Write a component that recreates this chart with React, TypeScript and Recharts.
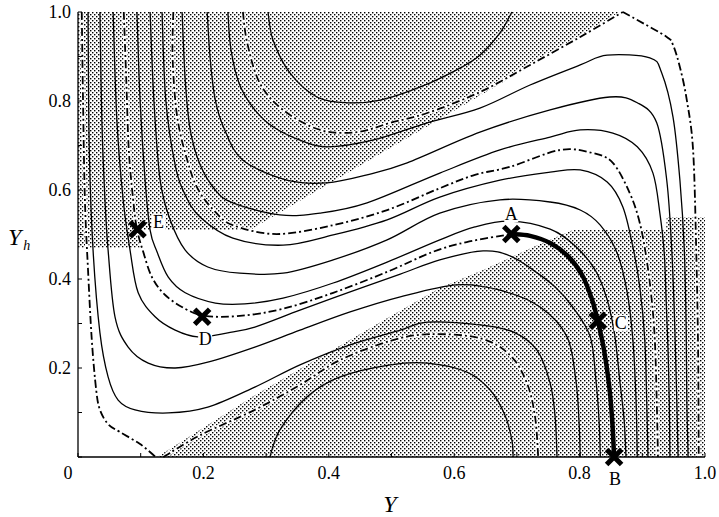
import React from 'react';
import { ComposedChart, Line, Area, Scatter, XAxis, YAxis } from 'recharts';

// ---------- axis ticks ----------
const TICKS = [0, 0.1, 0.2, 0.3, 0.4, 0.5, 0.6, 0.7, 0.8, 0.9, 1.0];
const X_LABELS = ['0', '', '0.2', '', '0.4', '', '0.6', '', '0.8', '', '1.0'];
const Y_LABELS = ['', '', '0.2', '', '0.4', '', '0.6', '', '0.8', '', '1.0'];

// ---------- shaded regions (x, lower, upper) ----------
const UPPER_SHADE_X = [0, 0.099, 0.1, 0.274, 0.869];
const UPPER_SHADE_LO = [0.47, 0.47, 0.51, 0.51, 1.0];
const LOWER_SHADE_X = [0.126, 0.282, 0.493, 0.577, 0.646, 0.726, 0.789, 0.938, 0.939, 1.0];
const LOWER_SHADE_HI = [0, 0.139, 0.312, 0.38, 0.42, 0.472, 0.51, 0.51, 0.539, 0.539];

// ---------- separatrices (dash-dot) ----------
const L0 = [[0.006, 1], [0.008, 0.802], [0.011, 0.578], [0.016, 0.42], [0.022, 0.263], [0.029, 0.151], [0.035, 0.106], [0.048, 0.074], [0.067, 0.056], [0.099, 0.029], [0.124, 0]];
const LO2 = [[0.136, 0], [0.195, 0.049], [0.282, 0.106], [0.354, 0.162], [0.418, 0.218], [0.498, 0.261], [0.561, 0.276], [0.641, 0.267], [0.689, 0.229], [0.716, 0.166], [0.729, 0.09], [0.734, 0]];
const UP2 = [[0.263, 1], [0.27, 0.93], [0.29, 0.84], [0.327, 0.78], [0.386, 0.735], [0.445, 0.73], [0.498, 0.751], [0.557, 0.773], [0.641, 0.82], [0.721, 0.881], [0.801, 0.944], [0.869, 1]];
const R0 = [[0.869, 1], [0.892, 0.982], [0.939, 0.944], [0.949, 0.926], [0.96, 0.876], [0.971, 0.802], [0.981, 0.69], [0.986, 0.465], [0.989, 0.24], [0.99, 0]];
const DD1 = [[0.073, 1], [0.077, 0.847], [0.081, 0.69], [0.088, 0.578], [0.094, 0.512], [0.104, 0.461], [0.118, 0.404], [0.139, 0.364], [0.171, 0.333], [0.203, 0.317], [0.258, 0.317], [0.327, 0.333], [0.407, 0.369], [0.493, 0.416], [0.566, 0.461], [0.62, 0.483], [0.691, 0.501]];
const DD2 = [[0.152, 1], [0.151, 0.892], [0.159, 0.757], [0.179, 0.645], [0.195, 0.593], [0.219, 0.551], [0.247, 0.521], [0.317, 0.501], [0.407, 0.521], [0.493, 0.555], [0.577, 0.604], [0.633, 0.634], [0.689, 0.652], [0.769, 0.69], [0.821, 0.683], [0.853, 0.661], [0.88, 0.593], [0.896, 0.526], [0.907, 0.443], [0.915, 0.353], [0.92, 0.263], [0.923, 0.128], [0.925, 0]];

// ---------- solid contours ----------
const UP1 = [[0.303, 1], [0.311, 0.937], [0.338, 0.863], [0.381, 0.809], [0.429, 0.796], [0.482, 0.802], [0.545, 0.831], [0.604, 0.87], [0.641, 0.903], [0.673, 0.953], [0.692, 1]];
const LO1 = [[0.306, 0], [0.322, 0.061], [0.365, 0.135], [0.418, 0.18], [0.498, 0.207], [0.557, 0.211], [0.62, 0.191], [0.657, 0.151], [0.681, 0.094], [0.692, 0.038], [0.694, 0]];
const A1 = [[0.016, 1], [0.018, 0.69], [0.024, 0.465], [0.035, 0.279], [0.048, 0.18], [0.064, 0.128], [0.091, 0.106], [0.144, 0.099], [0.207, 0.112], [0.282, 0.157], [0.354, 0.207], [0.434, 0.252], [0.514, 0.285], [0.557, 0.303], [0.641, 0.297], [0.694, 0.281], [0.732, 0.24], [0.753, 0.166], [0.761, 0.09], [0.764, 0]];
const A2 = [[0.035, 1], [0.038, 0.757], [0.043, 0.578], [0.048, 0.465], [0.059, 0.315], [0.08, 0.247], [0.112, 0.211], [0.155, 0.2], [0.207, 0.213], [0.282, 0.247], [0.354, 0.285], [0.434, 0.326], [0.514, 0.36], [0.604, 0.387], [0.673, 0.375], [0.737, 0.337], [0.78, 0.27], [0.794, 0.173], [0.799, 0.083], [0.801, 0]];
const A3 = [[0.056, 1], [0.062, 0.757], [0.072, 0.578], [0.083, 0.465], [0.096, 0.369], [0.123, 0.315], [0.155, 0.285], [0.191, 0.27], [0.239, 0.279], [0.282, 0.292], [0.354, 0.33], [0.434, 0.371], [0.514, 0.411], [0.577, 0.443], [0.646, 0.463], [0.689, 0.452], [0.726, 0.42], [0.761, 0.382], [0.789, 0.337], [0.817, 0.27], [0.826, 0.173], [0.831, 0.083], [0.833, 0]];
const S1 = [[0.094, 1], [0.099, 0.802], [0.107, 0.622], [0.115, 0.51], [0.126, 0.461], [0.144, 0.404], [0.171, 0.369], [0.219, 0.346], [0.266, 0.344], [0.327, 0.357], [0.407, 0.391], [0.493, 0.438], [0.577, 0.488], [0.633, 0.517], [0.689, 0.53], [0.753, 0.512], [0.793, 0.474], [0.825, 0.42], [0.844, 0.353], [0.856, 0.274], [0.864, 0.173], [0.871, 0.083], [0.874, 0]];
const S2 = [[0.115, 1], [0.121, 0.802], [0.131, 0.622], [0.147, 0.533], [0.171, 0.465], [0.207, 0.427], [0.258, 0.413], [0.327, 0.413], [0.407, 0.443], [0.493, 0.488], [0.577, 0.548], [0.673, 0.578], [0.753, 0.573], [0.801, 0.555], [0.833, 0.521], [0.86, 0.458], [0.876, 0.369], [0.885, 0.263], [0.89, 0.128], [0.892, 0]];
const S3 = [[0.134, 1], [0.14, 0.802], [0.155, 0.656], [0.171, 0.589], [0.195, 0.539], [0.247, 0.492], [0.327, 0.476], [0.407, 0.499], [0.493, 0.533], [0.577, 0.584], [0.673, 0.622], [0.753, 0.64], [0.801, 0.645], [0.844, 0.618], [0.869, 0.562], [0.885, 0.472], [0.896, 0.382], [0.904, 0.263], [0.907, 0.128], [0.909, 0]];
const C1 = [[0.166, 1], [0.171, 0.847], [0.179, 0.735], [0.195, 0.656], [0.219, 0.6], [0.247, 0.571], [0.322, 0.544], [0.386, 0.548], [0.461, 0.571], [0.577, 0.638], [0.673, 0.69], [0.753, 0.719], [0.801, 0.735], [0.853, 0.728], [0.892, 0.697], [0.917, 0.638], [0.928, 0.548], [0.935, 0.458], [0.938, 0.353], [0.941, 0.24], [0.943, 0.128], [0.944, 0]];
const C2 = [[0.206, 1], [0.211, 0.892], [0.219, 0.802], [0.234, 0.735], [0.263, 0.667], [0.333, 0.622], [0.397, 0.616], [0.461, 0.634], [0.525, 0.661], [0.641, 0.73], [0.753, 0.78], [0.848, 0.809], [0.892, 0.796], [0.923, 0.751], [0.939, 0.622], [0.947, 0.465], [0.952, 0.285], [0.955, 0.128], [0.957, 0]];
const C3 = [[0.239, 1], [0.244, 0.915], [0.258, 0.836], [0.282, 0.78], [0.311, 0.742], [0.354, 0.712], [0.397, 0.697], [0.47, 0.712], [0.557, 0.751], [0.641, 0.784], [0.721, 0.836], [0.801, 0.881], [0.844, 0.903], [0.912, 0.897], [0.931, 0.863], [0.949, 0.764], [0.96, 0.622], [0.967, 0.465], [0.97, 0.285], [0.971, 0.128], [0.973, 0]];

// ---------- thick trajectory A -> C -> B ----------
const PATH_AB = [[0.691, 0.501], [0.721, 0.497], [0.753, 0.481], [0.781, 0.452], [0.804, 0.409], [0.82, 0.353], [0.829, 0.306], [0.839, 0.24], [0.847, 0.162], [0.852, 0.083], [0.855, 0]];

// ---------- marked points ----------
const MARK_NAMES = ['A', 'B', 'C', 'D', 'E'];
const MARK_X = [0.691, 0.855, 0.829, 0.198, 0.095];
const MARK_Y = [0.501, 0, 0.306, 0.315, 0.512];

const SOLID = [UP1, LO1, A1, A2, A3, S1, S2, S3, C1, C2, C3];
const DASHDOT = [L0, LO2, UP2, R0, DD1, DD2];

const toPts = (a: number[][]) => a.map(([x, y]) => ({ x, y }));
const upperShade = UPPER_SHADE_X.map((x, i) => ({ x, r: [UPPER_SHADE_LO[i], 1] }));
const lowerShade = LOWER_SHADE_X.map((x, i) => ({ x, r: [0, LOWER_SHADE_HI[i]] }));
const marks = MARK_NAMES.map((name, i) => ({ name, x: MARK_X[i], y: MARK_Y[i] }));

const LABEL_OFF: Record<string, [number, number]> = {
  A: [0, -20], B: [1, 22], C: [23, 2], D: [3, 22], E: [21, -7],
};

// Catmull-Rom curve factory (d3-compatible)
function catmull(context: any) {
  let pts: [number, number][] = [];
  return {
    areaStart() {},
    areaEnd() {},
    lineStart() { pts = []; },
    lineEnd() {
      const n = pts.length;
      if (!n) return;
      context.moveTo(pts[0][0], pts[0][1]);
      for (let i = 0; i < n - 1; i++) {
        const p0 = pts[Math.max(0, i - 1)];
        const p1 = pts[i];
        const p2 = pts[i + 1];
        const p3 = pts[Math.min(n - 1, i + 2)];
        context.bezierCurveTo(
          p1[0] + (p2[0] - p0[0]) / 6, p1[1] + (p2[1] - p0[1]) / 6,
          p2[0] - (p3[0] - p1[0]) / 6, p2[1] - (p3[1] - p1[1]) / 6,
          p2[0], p2[1]
        );
      }
    },
    point(x: number, y: number) { pts.push([+x, +y]); },
  };
}

const FONT = '"Liberation Serif", "Times New Roman", Times, serif';

const XTick = (p: any) => {
  const i = TICKS.findIndex((t) => Math.abs(t - p.payload.value) < 1e-6);
  const s = X_LABELS[i] || '';
  if (!s) return <g />;
  const dx = s === '0' ? -10 : 0;
  return (
    <text x={p.x + dx} y={p.y} dy="0.71em" textAnchor="middle" fontFamily={FONT} fontSize={18} fill="#000">
      {s}
    </text>
  );
};

const YTick = (p: any) => {
  const i = TICKS.findIndex((t) => Math.abs(t - p.payload.value) < 1e-6);
  const s = Y_LABELS[i] || '';
  if (!s) return <g />;
  return (
    <text x={p.x} y={p.y} dy="0.34em" textAnchor="end" fontFamily={FONT} fontSize={18} fill="#000">
      {s}
    </text>
  );
};

const Cross = (p: any) => {
  const { cx, cy, payload } = p;
  const o = LABEL_OFF[payload.name] || [0, 0];
  const a = 7.5;
  return (
    <g>
      <path
        d={`M${cx - a},${cy - a}L${cx + a},${cy + a}M${cx - a},${cy + a}L${cx + a},${cy - a}`}
        stroke="#000" strokeWidth={5} fill="none"
      />
      <rect x={cx + o[0] - 7} y={cy + o[1] - 8} width={14} height={16} fill="#fff" />
      <text x={cx + o[0]} y={cy + o[1]} dy="0.35em" textAnchor="middle" fontFamily={FONT} fontSize={18} fill="#000">
        {payload.name}
      </text>
    </g>
  );
};

export default function App() {
  return (
    <div style={{ position: 'absolute', left: 0, top: 0, width: 719, height: 517, background: '#fff' }}>
      <ComposedChart width={719} height={517} margin={{ top: 12, right: 14, bottom: 30, left: 18 }}>
        <defs>
          <pattern id="stip" width="4" height="4" patternUnits="userSpaceOnUse">
            <rect width="4" height="4" fill="#fff" />
            <rect x="0" y="0" width="1.4" height="1.4" fill="#000" />
            <rect x="2" y="2" width="1.4" height="1.4" fill="#000" />
          </pattern>
        </defs>
        <XAxis
          dataKey="x" type="number" domain={[0, 1]} ticks={TICKS}
          tickSize={-4} tickMargin={13} tick={<XTick />} height={30}
          axisLine={{ stroke: '#000', strokeWidth: 1.3 }} tickLine={{ stroke: '#000', strokeWidth: 1 }}
        />
        <XAxis
          xAxisId="t" orientation="top" dataKey="x" type="number" domain={[0, 1]} ticks={TICKS}
          tickSize={-4} tick={false} height={0}
          axisLine={{ stroke: '#000', strokeWidth: 1.3 }} tickLine={{ stroke: '#000', strokeWidth: 1 }}
        />
        <YAxis
          type="number" domain={[0, 1]} ticks={TICKS}
          tickSize={-4} tickMargin={11} tick={<YTick />} width={60}
          axisLine={{ stroke: '#000', strokeWidth: 1.3 }} tickLine={{ stroke: '#000', strokeWidth: 1 }}
        />
        <YAxis
          yAxisId="r" orientation="right" type="number" domain={[0, 1]} ticks={TICKS}
          tickSize={-4} tick={false} width={0}
          axisLine={{ stroke: '#000', strokeWidth: 1.3 }} tickLine={{ stroke: '#000', strokeWidth: 1 }}
        />
        <Area data={upperShade} dataKey="r" type="linear" stroke="none" fill="url(#stip)" fillOpacity={1} isAnimationActive={false} dot={false} activeDot={false} />
        <Area data={lowerShade} dataKey="r" type="linear" stroke="none" fill="url(#stip)" fillOpacity={1} isAnimationActive={false} dot={false} activeDot={false} />
        {DASHDOT.map((c, i) => (
          <Line key={'h' + i} data={toPts(c)} dataKey="y" type={catmull as any} stroke="#fff" strokeWidth={3.5}
            dot={false} activeDot={false} isAnimationActive={false} />
        ))}
        {SOLID.map((c, i) => (
          <Line key={'s' + i} data={toPts(c)} dataKey="y" type={catmull as any} stroke="#000" strokeWidth={1.3}
            dot={false} activeDot={false} isAnimationActive={false} />
        ))}
        {DASHDOT.map((c, i) => (
          <Line key={'d' + i} data={toPts(c)} dataKey="y" type={catmull as any} stroke="#000" strokeWidth={1.8}
            strokeDasharray="8 3 2 3" dot={false} activeDot={false} isAnimationActive={false} />
        ))}
        <Line data={toPts(PATH_AB)} dataKey="y" type={catmull as any} stroke="#000" strokeWidth={4.5}
          dot={false} activeDot={false} isAnimationActive={false} />
        <Scatter data={marks} dataKey="y" shape={<Cross />} isAnimationActive={false} />
      </ComposedChart>
      <div style={{ position: 'absolute', left: 390, top: 504, transform: 'translate(-50%, -50%)', fontFamily: FONT, fontStyle: 'italic', fontSize: 24, lineHeight: 1 }}>
        Y
      </div>
      <div style={{ position: 'absolute', left: 8, top: 225, fontFamily: FONT, fontStyle: 'italic', fontSize: 24, lineHeight: 1 }}>
        Y<sub style={{ fontSize: 14, verticalAlign: 'baseline', position: 'relative', top: 5, marginLeft: 2 }}>h</sub>
      </div>
    </div>
  );
}
